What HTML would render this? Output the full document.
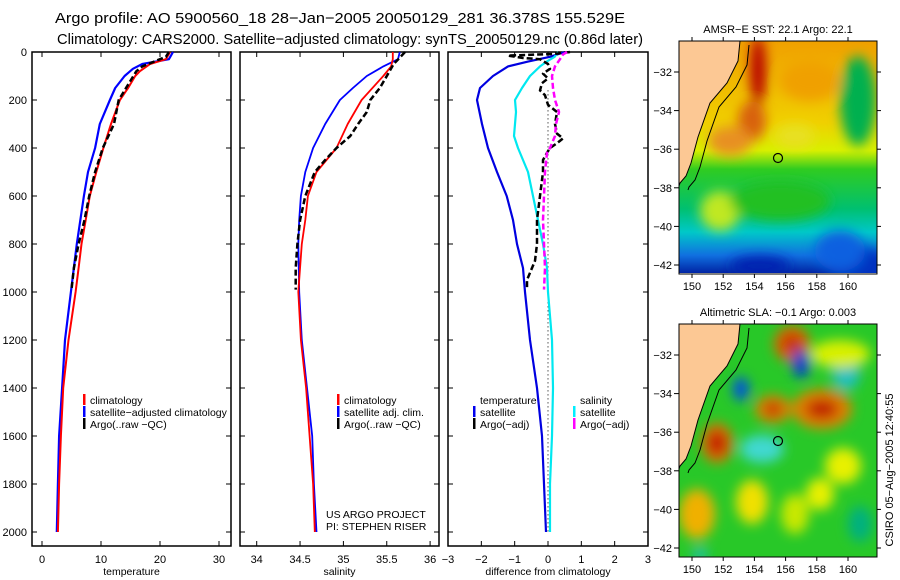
<!DOCTYPE html>
<html><head><meta charset="utf-8"><style>
html,body{margin:0;padding:0;background:#fff;width:900px;height:580px;overflow:hidden}
svg{display:block;font-family:"Liberation Sans",sans-serif}
</style></head><body>
<svg id="s" width="900" height="580" viewBox="0 0 900 580" xmlns="http://www.w3.org/2000/svg">
<defs>
<filter id="bl" x="-20%" y="-20%" width="140%" height="140%"><feGaussianBlur stdDeviation="6"/></filter>
<clipPath id="c1"><rect x="679" y="41" width="198" height="232"/></clipPath>
<clipPath id="c2"><rect x="679" y="324" width="198" height="233"/></clipPath>
<linearGradient id="sst" x1="0" y1="0" x2="0" y2="1">
<stop offset="0" stop-color="#f0a000"/><stop offset="0.35" stop-color="#f0d000"/><stop offset="0.47" stop-color="#d8f000"/>
<stop offset="0.55" stop-color="#30cc20"/><stop offset="0.72" stop-color="#00c070"/><stop offset="0.82" stop-color="#00c8c8"/>
<stop offset="0.92" stop-color="#1070e0"/><stop offset="1" stop-color="#0020a0"/></linearGradient>
</defs>
<text x="55" y="23" font-size="15" textLength="570" lengthAdjust="spacingAndGlyphs">Argo profile: AO 5900560_18 28−Jan−2005 20050129_281 36.378S 155.529E</text>
<text x="57" y="44" font-size="15" textLength="586" lengthAdjust="spacingAndGlyphs">Climatology: CARS2000. Satellite−adjusted climatology: synTS_20050129.nc (0.86d later)</text>
<g id="plots"></g>
<g id="maps"></g>
</svg>
<script>
const NS="http://www.w3.org/2000/svg";
const S=document.getElementById('plots');
function mk(t,a,p){const e=document.createElementNS(NS,t);for(const k in a)e.setAttribute(k,a[k]);(p||S).appendChild(e);return e;}
function tx(x,y,s,o,p){const e=mk('text',Object.assign({x:x,y:y,'font-size':11},o||{}),p);e.textContent=s;return e;}

// ---- data (depth m, values) ----
const tClimDepth=[0,30,50,80,100,150,200,300,400,500,600,700,800,900,1000,1200,1400,1600,1800,2000];
const tClimVal=[21.7,21,18.3,16.6,15.8,14.6,13.2,11.7,10.4,9.2,8.1,7.4,6.7,6.2,5.7,4.5,3.6,3.2,2.9,2.7];
const tSatDepth=[0,30,50,70,100,150,200,300,400,500,600,800,1000,1200,1400,1600,1800,2000];
const tSatVal=[22.2,21.5,17,15.4,14,12.4,11.5,9.8,9,7.8,7.1,5.9,4.9,3.9,3.4,2.9,2.7,2.5];
const tArgoDepth=[0,20,40,60,80,100,200,300,400,500,600,700,800,900,990];
const tArgoVal=[21.5,21,19,17,16,15.5,13,12.2,10.3,9,8,7.2,6.2,5.4,5];
const sClimDepth=[0,30,60,100,200,300,400,500,600,700,800,1000,1200,1400,1600,1800,2000];
const sClimVal=[35.57,35.57,35.55,35.46,35.21,35.05,34.92,34.69,34.59,34.56,34.52,34.48,34.51,34.57,34.61,34.65,34.67];
const sSatDepth=[0,30,60,100,150,200,300,400,500,600,700,800,1000,1200,1400,1600,1800,2000];
const sSatVal=[35.65,35.63,35.46,35.27,35.11,34.96,34.79,34.65,34.56,34.51,34.49,34.48,34.49,34.52,34.58,34.64,34.66,34.69];
const sArgoDepth=[0,20,50,100,150,200,250,300,350,400,450,500,600,700,800,900,990];
const sArgoVal=[35.71,35.66,35.58,35.5,35.42,35.31,35.27,35.17,35.08,34.92,34.79,34.67,34.56,34.5,34.47,34.45,34.45];
const dTSatDepth=[0,20,40,60,100,150,200,300,400,500,600,700,800,900,1000,1200,1400,1600,1800,2000];
const dTSatVal=[0.5,0.06,-0.6,-1.2,-1.65,-2.04,-2.13,-1.98,-1.8,-1.53,-1.24,-1.05,-0.93,-0.75,-0.69,-0.54,-0.33,-0.18,-0.12,-0.06];
const dSSatDepth=[0,20,40,60,100,150,200,250,300,350,400,500,600,700,800,900,1000,1200,1400,1600,1800,2000];
const dSSatVal=[0.3,0.2,-0.04,-0.24,-0.54,-0.78,-0.99,-0.96,-0.99,-1.02,-0.9,-0.6,-0.45,-0.3,-0.15,-0.03,0,0.12,0.15,0.12,0.06,0.06];
const dTArgoDepth=[0,8,15,25,30,50,70,90,110,130,160,180,220,250,300,340,360,380,400,420,450,500,600,700,800,870,920,950,990];
const dTArgoVal=[0.66,0.2,-1.2,-0.75,-0.24,0,0.06,-0.15,0,-0.18,-0.24,-0.09,0,0.27,0.21,0.27,0.45,0.27,0.06,-0.03,-0.15,-0.15,-0.24,-0.33,-0.33,-0.39,-0.54,-0.63,-0.63];
const dSArgoDepth=[0,10,30,60,100,150,200,250,300,350,400,420,500,600,700,800,900,990];
const dSArgoVal=[0.57,0.45,0.36,0.21,0.12,0.15,0.21,0.33,0.24,0.21,0.06,-0.03,-0.09,-0.12,-0.15,-0.12,-0.09,-0.12];
const depthTicks=[0,200,400,600,800,1000,1200,1400,1600,1800,2000];
const tTicks=[0,10,20,30], sTicks=[34,34.5,35,35.5,36], dTicks=[-3,-2,-1,0,1,2,3];
const lonTicks=[150,152,154,156,158,160], latTicks=[-32,-34,-36,-38,-40,-42];

const yD=d=>52+0.24*d;
const panels=[
 {name:'temperature',x0:32,x1:231,f:v=>42+5.9*v,ticks:tTicks,label:'temperature',yl:true},
 {name:'salinity',x0:240,x1:439,f:v=>256.7+86.7*(v-34),ticks:sTicks,label:'salinity'},
 {name:'difference',x0:448,x1:648,f:v=>548+33.33*v,ticks:dTicks,label:'difference from climatology'}];
const TOP=52,BOT=546;
panels.forEach(p=>{
 const g=mk('g',{});
 
 
 const r=mk('rect',{x:p.x0,y:TOP,width:p.x1-p.x0,height:BOT-TOP,fill:'none',stroke:'#000','stroke-width':1.5},g);
 
 
 p.ticks.forEach(t=>{const x=p.f(t);
  mk('line',{x1:x,x2:x,y1:BOT,y2:BOT-5,stroke:'#000'},g);mk('line',{x1:x,x2:x,y1:TOP,y2:TOP+5,stroke:'#000'},g);
  const l=tx(x,563,String(t).replace('-','−'),{'text-anchor':'middle'},g);
  
  });
 depthTicks.forEach(d=>{const y=yD(d);
  mk('line',{x1:p.x0,x2:p.x0+5,y1:y,y2:y,stroke:'#000'},g);mk('line',{x1:p.x1,x2:p.x1-5,y1:y,y2:y,stroke:'#000'},g);
  if(p.yl){const l=tx(27,y+4,String(d),{'text-anchor':'end'},g);
   
   }});
 const xl=tx((p.x0+p.x1)/2,575,p.label,{'text-anchor':'middle','font-size':10.5},g);
 
 
});
function series(name,p,ds,vs,col,w,dash){
 const pts=ds.map((d,i)=>p.f(vs[i]).toFixed(1)+','+yD(d).toFixed(1)).join(' ');
 const a={points:pts,fill:'none',stroke:col,'stroke-width':w,'stroke-linejoin':'round'};
 if(dash)a['stroke-dasharray']=dash;
 const e=mk('polyline',a);
 
 
}
const z=mk('line',{x1:548,x2:548,y1:yD(160),y2:yD(2000),stroke:'#000','stroke-dasharray':'1,3'});


series('temp-satellite-line',panels[0],tSatDepth,tSatVal,'#0000ff',2.2);
series('temp-climatology-line',panels[0],tClimDepth,tClimVal,'#ff0000',2);
series('temp-argo-line',panels[0],tArgoDepth,tArgoVal,'#000',2.5,'6,3');
series('sal-satellite-line',panels[1],sSatDepth,sSatVal,'#0000ff',1.8);
series('sal-climatology-line',panels[1],sClimDepth,sClimVal,'#ff0000',1.8);
series('sal-argo-line',panels[1],sArgoDepth,sArgoVal,'#000',2.5,'6,3');
series('diff-temp-satellite-line',panels[2],dTSatDepth,dTSatVal,'#0000e0',2.2);
series('diff-sal-satellite-line',panels[2],dSSatDepth,dSSatVal,'#00e8f0',2.2);
series('diff-temp-argo-line',panels[2],dTArgoDepth,dTArgoVal,'#000',2.5,'6,3');
series('diff-sal-argo-line',panels[2],dSArgoDepth,dSArgoVal,'#ff00ff',2.5,'6,3');
function leg(x,y,col,txt,name){
 if(col){const b=mk('rect',{x:x,y:y-10,width:2.5,height:11,fill:col});
  
  }
 const t=tx(x+7,y,txt,{'font-size':10.5});
 
 
}
leg(83,404,'#f00','climatology','legend-climatology');
leg(83,416,'#00f','satellite−adjusted climatology','legend-satellite-adjusted');
leg(83,428,'#000','Argo(..raw −QC)','legend-argo');
leg(337,404,'#f00','climatology','legend-sal-climatology');
leg(337,416,'#00f','satellite adj. clim.','legend-sal-satellite');
leg(337,428,'#000','Argo(..raw −QC)','legend-sal-argo');
leg(473,404,null,'temperature','legend-temperature-heading');
leg(473,416,'#00e','satellite','legend-diff-temp-satellite');
leg(473,428,'#000','Argo(−adj)','legend-diff-temp-argo');
leg(573,404,null,'salinity','legend-salinity-heading');
leg(573,416,'#0ef','satellite','legend-diff-sal-satellite');
leg(573,428,'#f0f','Argo(−adj)','legend-diff-sal-argo');
const t1=tx(326,518,'US ARGO PROJECT',{'font-size':10.5});


const t2=tx(326,530,'PI: STEPHEN RISER',{'font-size':10.5});



// ---- maps ----
const M=document.getElementById('maps');
const PX_PER_LON=15.6, PX_PER_LAT=19.3;
const coast=[[740,0],[738,20],[727,42],[710,62],[698,96],[691,122],[686,135],[680,142],[679,145]];
function drawMap(y0,title,name,clip,blobs,base){
 const g=mk('g',{},M);
 
 
 const cg=mk('g',{'clip-path':'url(#'+clip+')'},g);
 mk('rect',{x:679,y:y0,width:198,height:233,fill:base},cg);
 const bg=mk('g',{filter:'url(#bl)'},cg);
 blobs.forEach(b=>mk('ellipse',{cx:b[0],cy:y0+b[1],rx:b[2],ry:b[3],fill:b[4]},bg));
 const land='M679,'+y0+' '+coast.map(c=>'L'+c[0]+','+(y0+c[1])).join(' ')+' Z';
 const lp=mk('path',{d:land,fill:'#fcc894',stroke:'#000','stroke-width':1},cg);
 
 
 mk('polyline',{points:coast.map(c=>(c[0]+9)+','+(y0+c[1]+4)).join(' '),fill:'none',stroke:'#000','stroke-width':1},cg);
 const ci=mk('circle',{cx:778,cy:y0+117,r:4.5,fill:'none',stroke:'#000','stroke-width':1.2},g);
 
 
 mk('rect',{x:679,y:y0,width:198,height:233,fill:'none',stroke:'#000','stroke-width':1},g);
 lonTicks.forEach(l=>{const x=692+PX_PER_LON*(l-150);
  mk('line',{x1:x,x2:x,y1:y0,y2:y0-4,stroke:'#000'},g);mk('line',{x1:x,x2:x,y1:y0+233,y2:y0+237,stroke:'#000'},g);
  const t=tx(x,y0+249,String(l),{'text-anchor':'middle','font-size':11},g);
  
  });
 latTicks.forEach(l=>{const y=y0+31+PX_PER_LAT*(-32-l);
  mk('line',{x1:679,x2:674,y1:y,y2:y,stroke:'#000'},g);mk('line',{x1:877,x2:881,y1:y,y2:y,stroke:'#000'},g);
  const t=tx(672,y+4,String(l).replace('-','−'),{'text-anchor':'end','font-size':11},g);
  
  });
 const tt=tx(778,y0-8,title,{'text-anchor':'middle','font-size':11},g);
 
 
}
const sstBlobs=[[758,30,8,35,'#b80000'],[752,80,14,20,'#d86010'],[730,100,22,15,'#e89020'],[858,60,18,45,'#00b050'],
 [810,40,30,20,'#f0a000'],[795,95,20,12,'#e8e020'],[720,170,20,20,'#c0e820'],[860,230,30,25,'#0030c0'],
 [760,225,30,10,'#0020b0'],[840,210,25,20,'#1060e0'],[780,160,50,20,'#20c020']];
drawMap(41,'AMSR−E SST: 22.1 Argo: 22.1','sst-map','c1',sstBlobs,'url(#sst)');
const slaBlobs=[[792,20,18,18,'#e06000'],[792,20,9,9,'#c03000'],[801,40,9,14,'#0040d0'],[741,65,8,12,'#0050e0'],
 [773,85,18,14,'#e08000'],[773,85,8,7,'#c03000'],[822,85,30,20,'#e08000'],[822,85,16,10,'#c02000'],
 [717,119,16,20,'#e07000'],[717,119,9,12,'#c01000'],[762,125,22,14,'#40d8d0'],[846,50,14,16,'#20c0c0'],
 [843,142,18,18,'#e8f000'],[697,190,18,25,'#f0b000'],[752,178,16,22,'#f0e000'],[820,170,14,16,'#e8f000'],
 [840,30,30,14,'#d8f000'],[795,190,14,20,'#c8e800'],[860,200,12,18,'#00b080'],[700,230,8,6,'#20c0c0']];
drawMap(324,'Altimetric SLA: −0.1 Argo: 0.003','sla-map','c2',slaBlobs,'#28c828');
const rt=mk('text',{transform:'translate(893,470) rotate(-90)','text-anchor':'middle','font-size':11},document.getElementById('s'));
rt.textContent='CSIRO 05−Aug−2005 12:40:55';


</script>
</body></html>
